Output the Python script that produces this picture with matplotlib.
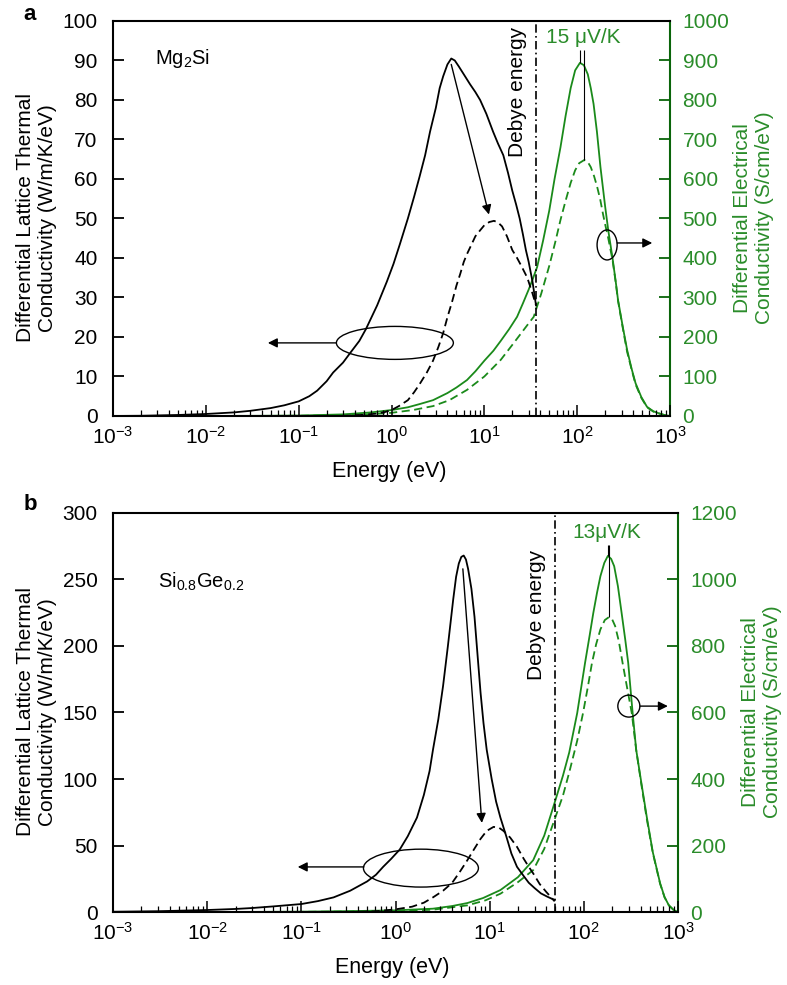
import matplotlib
matplotlib.use('Agg')
import matplotlib.pyplot as plt
import numpy as np
from matplotlib.patches import Ellipse
from matplotlib.ticker import LogLocator, MultipleLocator, NullFormatter

plt.rcParams['font.family'] = ['Liberation Sans', 'DejaVu Sans']
plt.rcParams['mathtext.fontset'] = 'custom'
plt.rcParams['mathtext.rm'] = 'Liberation Sans'
plt.rcParams['mathtext.it'] = 'Liberation Sans:italic'

GREEN = '#1a8a1a'
GREEN_TXT = '#2a8c2a'
GREEN_SPINE = '#0a640a'

# ---- panel a: Mg2Si ----
a_kap_E = [0.001, 0.002, 0.005, 0.01, 0.02, 0.03, 0.05, 0.07, 0.1, 0.13, 0.158, 0.2, 0.235, 0.3,
           0.36, 0.45, 0.53, 0.7, 0.89, 1.05, 1.23, 1.5, 1.75, 2.0, 2.3, 2.6, 3.0, 3.3, 3.6, 4.0,
           4.4, 4.8, 5.3, 6.0, 7.0, 8.0, 9.0, 10.5, 12.4, 14, 16, 18, 20, 22, 24, 26, 28, 30, 33, 36]
a_kap = [0.0, 0.05, 0.25, 0.5, 0.9, 1.3, 2.0, 2.7, 3.7, 5.0, 6.4, 8.8, 11, 13.5,
         16, 19, 22, 28, 34, 38.5, 43.5, 50, 55.5, 60.5, 66, 72, 78, 83, 86, 89,
         90.5, 90, 88.5, 86.5, 84, 82, 80, 76.5, 72, 69, 66, 61.5, 57, 53.5, 50, 46, 42, 39, 34, 28]
a_kapd_E = [0.3, 0.5, 0.7, 0.85, 1.0, 1.2, 1.5, 1.75, 2.0, 2.4, 2.8, 3.2, 3.6, 4.0, 4.5, 5.0,
            5.5, 6.0, 6.5, 7.3, 8.0, 9.0, 10, 11.3, 12.7, 14, 15.5, 17.5, 20, 22.5, 25, 29, 33, 36]
a_kapd = [0.0, 0.3, 0.6, 1.0, 1.5, 2.5, 4, 6, 8, 11, 14, 17.5, 21, 25, 29, 33,
          36, 39, 41, 43.5, 45.5, 47, 48.3, 49.1, 49.4, 49, 48, 45.5, 42, 40, 38, 35, 31, 28]

a_sig_E = [0.01, 0.03, 0.1, 0.3, 0.6, 1.0, 1.5, 2.0, 2.8, 4.0, 5.0, 6.5, 8, 10, 12.5, 15, 18.5,
           22.5, 26, 30, 33, 37, 43, 50, 57, 66, 75, 85, 95, 107, 118, 130, 140, 150, 163, 178,
           200, 216, 240, 260, 275, 310, 345, 385, 425, 490, 565, 660, 770, 880, 1000]
a_sig = [0, 0.3, 1, 4, 9, 15, 22, 30, 40, 58, 72, 91, 113, 140, 165, 190, 220,
         251, 285, 320, 345, 377, 445, 520, 600, 680, 760, 830, 875, 894, 888, 865, 830, 790, 720, 630,
         530, 470, 400, 340, 294, 225, 167, 120, 83, 48, 23, 12, 6, 2, 0]
a_sigd_E = [0.03, 0.1, 0.3, 0.6, 1.0, 1.7, 2.8, 4.2, 6.5, 10, 15, 20, 25, 29, 34, 41, 50, 58,
            66, 75, 85, 95, 105, 119, 130, 140, 152, 164, 177, 190, 200, 216, 240, 260, 275,
            310, 345, 385, 425, 490, 565, 660, 770, 880, 1000]
a_sigd = [0, 0.5, 2, 4.5, 8, 15, 25, 40, 66, 100, 142, 180, 210, 230, 251, 310, 380, 440,
          496, 545, 590, 622, 640, 648, 643, 630, 607, 580, 548, 510, 485, 450, 395, 338, 292,
          222, 162, 118, 80, 46, 22, 11, 6, 2, 0]
a_debye = 36

# ---- panel b: Si0.8Ge0.2 ----
b_kap_E = [0.001, 0.003, 0.01, 0.02, 0.03, 0.05, 0.1, 0.15, 0.22, 0.33, 0.5, 0.62, 0.74, 0.9,
           1.11, 1.35, 1.69, 2.0, 2.3, 2.5, 2.85, 3.2, 3.6, 4.1, 4.4, 4.7, 5.0, 5.3, 5.6, 5.9,
           6.4, 6.9, 7.4, 8.0, 8.6, 9.3, 10.5, 11.7, 13, 15, 17, 19.5, 23, 26, 30, 35, 41, 49]
b_kap = [0.2, 0.6, 1.5, 2.3, 3, 4.2, 6, 8.2, 11, 16, 23, 28, 34, 40,
         47, 57, 71, 88, 106, 122, 145, 170, 200, 235, 252, 262, 267, 268, 265, 258,
         243, 222, 195, 165, 142, 122, 100, 83, 71, 57, 44, 34, 27, 22, 18, 14, 11.5, 9]
b_kapd_E = [0.3, 0.6, 1.0, 1.5, 2.0, 2.5, 3.2, 4.0, 4.8, 5.8, 6.8, 8.0, 9.3, 11, 12.5, 14,
            16.5, 19.5, 23, 26, 29, 34, 40, 45, 49]
b_kapd = [0.0, 0.5, 2, 4, 7, 11, 16, 22, 30, 39, 47, 55, 61, 64, 63.5, 61,
          56, 49, 40, 34, 29, 21, 15, 11, 8]

b_sig_E = [0.01, 0.03, 0.1, 0.3, 1.0, 2.5, 4, 5.8, 8.5, 13, 20, 29, 38, 50, 60, 70, 85, 103,
           115, 126, 138, 150, 165, 180, 195, 210, 230, 252, 275, 296, 330, 360, 410, 466, 540,
           645, 720, 800, 900, 1000]
b_sig = [0, 0.3, 1, 2.5, 5, 10, 18, 27, 42, 66, 105, 156, 230, 337, 410, 480, 598, 749,
         830, 899, 960, 1010, 1050, 1071, 1062, 1040, 980, 899, 820, 749, 598, 487, 385, 286, 180,
         87, 45, 20, 6, 0]
b_sigd_E = [0.01, 0.1, 0.3, 1.0, 2.5, 5.8, 9, 13, 20, 29, 38, 50, 60, 70, 85, 98, 110, 122,
            135, 150, 167, 185, 200, 215, 235, 258, 290, 323, 360, 410, 466, 540, 645, 720, 800,
            900, 1000]
b_sigd = [0, 0.5, 1.5, 3, 7, 20, 35, 55, 90, 126, 190, 286, 350, 420, 515, 598, 675, 749,
          805, 850, 878, 887, 880, 860, 815, 749, 670, 598, 487, 380, 280, 178, 85, 44, 20,
          6, 0]
b_debye = 50

fig = plt.figure(figsize=(7.87, 9.85), dpi=100)


def style_axes(ax, ax2, ymax_l, ystep_l, ymax_r, ystep_r):
    ax.set_xscale('log')
    ax.set_xlim(1e-3, 1e3)
    ax.set_ylim(0, ymax_l)
    ax2.set_ylim(0, ymax_r)
    ax.xaxis.set_major_locator(LogLocator(base=10, numticks=10))
    ax.xaxis.set_minor_locator(LogLocator(base=10, subs=np.arange(2, 10), numticks=20))
    ax.xaxis.set_minor_formatter(NullFormatter())
    ax.yaxis.set_major_locator(MultipleLocator(ystep_l))
    ax2.yaxis.set_major_locator(MultipleLocator(ystep_r))
    ax.tick_params(axis='x', which='major', direction='in', length=8, width=1.1, labelsize=15, pad=7)
    ax.tick_params(axis='x', which='minor', direction='in', length=4, width=0.9)
    ax.tick_params(axis='y', direction='in', length=8, width=1.3, labelsize=15, pad=11)
    ax2.tick_params(axis='y', direction='in', length=8, width=1.3, labelsize=15, pad=9,
                    colors=GREEN_SPINE, labelcolor=GREEN_TXT)
    for s in ['left', 'bottom', 'top']:
        ax.spines[s].set_linewidth(1.5)
    ax.spines['right'].set_visible(False)
    for s in ['left', 'bottom', 'top']:
        ax2.spines[s].set_visible(False)
    ax2.spines['right'].set_linewidth(1.5)
    ax2.spines['right'].set_color(GREEN_SPINE)


def draw_panel(rect, kapE, kap, kapdE, kapd, sigE, sig, sigdE, sigd, debye,
               ymax_l, ystep_l, ymax_r, ystep_r):
    ax = fig.add_axes(rect)
    ax2 = ax.twinx()
    style_axes(ax, ax2, ymax_l, ystep_l, ymax_r, ystep_r)
    ax.set_zorder(ax2.get_zorder() + 1)
    ax.patch.set_visible(False)
    ax.plot(kapE, kap, color='black', lw=1.3)
    ax.plot(kapdE, kapd, color='black', lw=1.3, ls=(0, (4.5, 2.5)))
    ax2.plot(sigE, sig, color=GREEN, lw=1.3)
    ax2.plot(sigdE, sigd, color=GREEN, lw=1.3, ls=(0, (4.5, 2.5)))
    ax.axvline(debye, color='black', lw=1.2, ls=(0, (5, 2, 1, 2)))
    return ax, ax2


# panel a
axa, axa2 = draw_panel([0.1436, 0.5777, 0.7078, 0.401], a_kap_E, a_kap, a_kapd_E, a_kapd,
                       a_sig_E, a_sig, a_sigd_E, a_sigd, a_debye, 100, 10, 1000, 100)
# panel b
axb, axb2 = draw_panel([0.1436, 0.0741, 0.7179, 0.4051], b_kap_E, b_kap, b_kapd_E, b_kapd,
                       b_sig_E, b_sig, b_sigd_E, b_sigd, b_debye, 300, 50, 1200, 200)

# peak markers for the Seebeck labels
for ax2, sE, s, dE, d, top in [(axa2, a_sig_E, a_sig, a_sigd_E, a_sigd, 927),
                                (axb2, b_sig_E, b_sig, b_sigd_E, b_sigd, 1104)]:
    i = int(np.argmax(s))
    j = int(np.argmax(d))
    ax2.vlines(sE[i], s[i], top, color='black', lw=0.8)
    ax2.vlines(dE[j], d[j], top, color='black', lw=0.8)

axa.text(0.844, 0.959, '15 \u03bcV/K', transform=axa.transAxes, color=GREEN_TXT,
         fontsize=15, ha='center', va='center')
axb.text(0.874, 0.952, '13\u03bcV/K', transform=axb.transAxes, color=GREEN_TXT,
         fontsize=15, ha='center', va='center')

axa.text(0.727, 0.820, 'Debye energy', transform=axa.transAxes, rotation=90,
         fontsize=15, ha='center', va='center')
axb.text(0.750, 0.744, 'Debye energy', transform=axb.transAxes, rotation=90,
         fontsize=15, ha='center', va='center')

axa.text(0.075, 0.906, r'$\mathregular{Mg_2Si}$', transform=axa.transAxes,
         fontsize=14.5, ha='left', va='center')
axb.text(0.080, 0.827, r'$\mathregular{Si_{0.8}Ge_{0.2}}$', transform=axb.transAxes,
         fontsize=14.5, ha='left', va='center')

# arrows from solid peak to dashed peak
arr = dict(arrowstyle='-|>', color='black', lw=1.0, mutation_scale=14, shrinkA=0, shrinkB=0)
axa.annotate('', xy=(11.2, 51), xytext=(4.4, 89), arrowprops=arr)
axb.annotate('', xy=(8.26, 67), xytext=(5.19, 258), arrowprops=arr)

# ellipses with pointing arrows
for ax, cx, cy, w, h, x0, x1, ya in [
        (axa, 0.506, 0.185, 0.210, 0.0835, 0.400, 0.278, 0.185),
        (axa, 0.887, 0.433, 0.036, 0.076, 0.905, 0.968, 0.438),
        (axb, 0.545, 0.110, 0.2035, 0.095, 0.444, 0.327, 0.113),
        (axb, 0.913, 0.516, 0.039, 0.055, 0.933, 0.982, 0.516)]:
    ax.add_patch(Ellipse((cx, cy), w, h, transform=ax.transAxes, fill=False,
                         edgecolor='black', lw=1.0))
    ax.annotate('', xy=(x1, ya), xytext=(x0, ya), xycoords='axes fraction',
                textcoords='axes fraction', arrowprops=arr)

# axis labels
for yc in [218, 712]:
    fig.text(37 / 787, 1 - yc / 985, 'Differential Lattice Thermal\nConductivity (W/m/K/eV)',
             rotation=90, ha='center', va='center', fontsize=15, linespacing=1.2)
for xc, yc in [(753, 218), (762, 712)]:
    fig.text(xc / 787, 1 - yc / 985, 'Differential Electrical\nConductivity (S/cm/eV)',
             rotation=90, ha='center', va='center', fontsize=15, linespacing=1.2,
             color=GREEN_TXT)
fig.text(389 / 787, 1 - 472 / 985, 'Energy (eV)', ha='center', va='center', fontsize=15.5)
fig.text(392 / 787, 1 - 968 / 985, 'Energy (eV)', ha='center', va='center', fontsize=15.5)

fig.text(30 / 787, 1 - 15 / 985, 'a', fontweight='bold', fontsize=16, ha='center', va='center')
fig.text(30 / 787, 1 - 505 / 985, 'b', fontweight='bold', fontsize=16, ha='center', va='center')

fig.savefig('out.png', dpi=100)
